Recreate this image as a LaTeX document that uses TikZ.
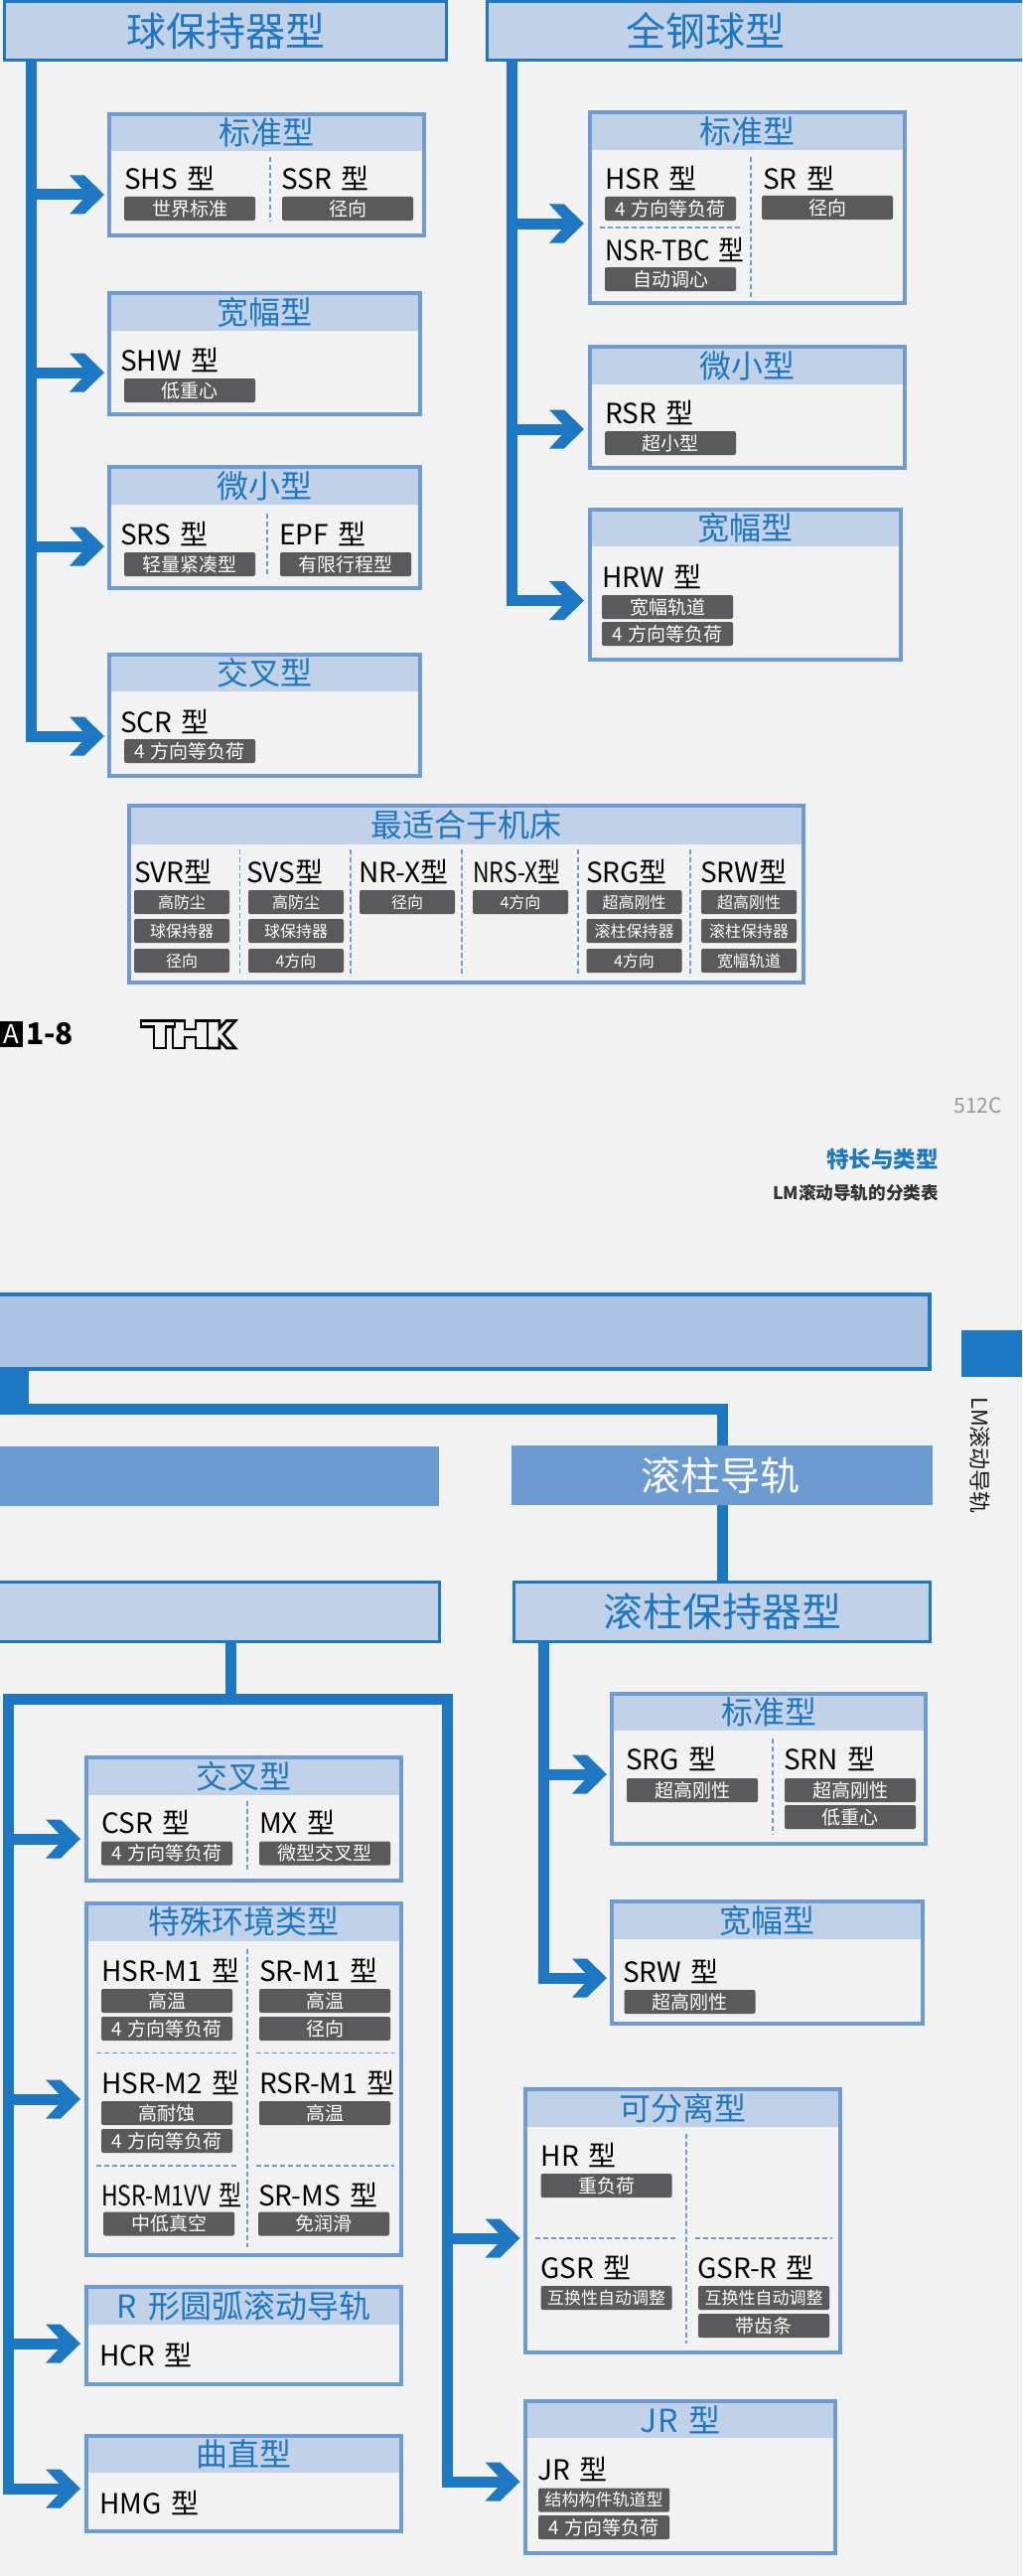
\documentclass[tikz,border=0pt]{standalone}
\usepackage{fontspec}
\setmainfont[WordSpace=1.5]{Noto Sans CJK SC}
\newfontfamily\narrowfont[FakeStretch=0.82,WordSpace=1.5]{Noto Sans CJK SC}
\newfontfamily\semifont[FakeStretch=0.92,WordSpace=1.5]{Noto Sans CJK SC}
\definecolor{pagegray}{HTML}{F2F2F3}
\definecolor{railblue}{HTML}{1E77C2}
\definecolor{cardline}{HTML}{6F9BD4}
\definecolor{headfill}{HTML}{C1D1E8}
\definecolor{barfill}{HTML}{ADC3E1}
\definecolor{bandfill}{HTML}{6C9BD2}
\definecolor{tagfill}{HTML}{5A5A5C}
\pgfdeclarearrow{
  name=Chevron,
  setup code={
    \pgfarrowssettipend{0pt}
    \pgfarrowssetlineend{-12pt}
    \pgfarrowssetvisualbackend{-35pt}
    \pgfarrowssetbackend{-35pt}
  },
  drawing code={
    \pgfsetfillcolor{railblue}
    \pgfpathmoveto{\pgfpoint{0pt}{0pt}}
    \pgfpathlineto{\pgfpoint{-20pt}{19.5pt}}
    \pgfpathlineto{\pgfpoint{-35pt}{19.5pt}}
    \pgfpathlineto{\pgfpoint{-17pt}{0pt}}
    \pgfpathlineto{\pgfpoint{-35pt}{-19.5pt}}
    \pgfpathlineto{\pgfpoint{-20pt}{-19.5pt}}
    \pgfpathclose
    \pgfusepathqfill
  }
}
\tikzset{
  trunk/.style={draw=railblue, line width=11pt},
  branch/.style={trunk, -Chevron},
  topbox/.style={draw=railblue, line width=3pt, outer sep=0pt, fill=headfill, anchor=north west, inner sep=0pt, text=railblue, font=\fontsize{40}{42}\selectfont},
  bandbox/.style={fill=bandfill, anchor=north west, inner sep=0pt, outer sep=0pt, text=white, font=\fontsize{40}{42}\selectfont},
  cardhead/.style={fill=headfill, anchor=north west, inner sep=0pt, outer sep=0pt, text=railblue, font=\fontsize{32}{34}\selectfont},
  cardbox/.style={draw=cardline, line width=4pt, anchor=north west, inner sep=0pt, outer sep=0pt},
  model/.style={anchor=west, inner sep=0pt, text=black, font=\fontsize{28}{30}\selectfont},
  narrowmodel/.style={model, font=\narrowfont\fontsize{28}{30}\selectfont},
  semimodel/.style={model, font=\semifont\fontsize{28}{30}\selectfont},
  tag/.style={fill=tagfill, rounded corners=2pt, anchor=north west, inner sep=0pt, outer sep=0pt, text=white, minimum width=132pt, minimum height=24pt, font=\fontsize{19}{21}\selectfont},
  smalltag/.style={tag, minimum width=96pt, font=\fontsize{16}{18}\selectfont},
  cellsep/.style={draw=cardline, line width=1.5pt, dash pattern=on 5pt off 3pt},
}
\begin{document}
\begin{tikzpicture}[x=1pt, y=-1pt]
	\useasboundingbox (0,0) rectangle (1029,2593);
	\clip (0,0) rectangle (1029,2593);
	\fill[pagegray] (0,0) rectangle (1029,2593);

	% Ball cage column
	\node[topbox, minimum width=445pt, minimum height=59pt] (ballCage) at (4.5,1.5) {球保持器型};
	\coordinate (trunkA) at (31.5,60);
	\coordinate (tipA1) at (105,196);
	\coordinate (tipA2) at (105,375);
	\coordinate (tipA3) at (105,550);
	\coordinate (tipA4) at (105,741);

	\node[cardhead, minimum width=317pt, minimum height=37pt] (stdAhead) at (110,115) {标准型};
	\node[cardbox, minimum width=317pt, minimum height=122pt] (stdA) at (stdAhead.north west) {};
	\node[model] (shs) at (125,179) {SHS 型};
	\node[tag] (shsTag) at (125,198) {世界标准};
	\node[model] (ssr) at (283,179) {SSR 型};
	\node[tag] (ssrTag) at (284,198) {径向};
	\draw[cellsep] (272,158) -- (272,223);

	\node[cardhead, minimum width=313pt, minimum height=38pt] (wideAhead) at (110,295) {宽幅型};
	\node[cardbox, minimum width=313pt, minimum height=122pt] (wideA) at (wideAhead.north west) {};
	\node[model] (shw) at (121,362) {SHW 型};
	\node[tag] (shwTag) at (125,381) {低重心};

	\node[cardhead, minimum width=313pt, minimum height=38pt] (miniAhead) at (110,470) {微小型};
	\node[cardbox, minimum width=313pt, minimum height=122pt] (miniA) at (miniAhead.north west) {};
	\node[model] (srs) at (121,537) {SRS 型};
	\node[tag] (srsTag) at (125,556) {轻量紧凑型};
	\node[model] (epf) at (281,537) {EPF 型};
	\node[tag] (epfTag) at (282,556) {有限行程型};
	\draw[cellsep] (269,517) -- (269,581);

	\node[cardhead, minimum width=313pt, minimum height=37pt] (crossAhead) at (110,659) {交叉型};
	\node[cardbox, minimum width=313pt, minimum height=122pt] (crossA) at (crossAhead.north west) {};
	\node[model] (scr) at (121,726) {SCR 型};
	\node[tag] (scrTag) at (125,744) {4 方向等负荷};

	\draw[branch] (trunkA) |- (tipA1);
	\draw[branch] (trunkA) |- (tipA2);
	\draw[branch] (trunkA) |- (tipA3);
	\draw[branch] (trunkA) |- (tipA4);

	% Full ball column
	\node[topbox, minimum width=800pt, minimum height=59pt] (fullBall) at (490.5,1.5) {};
	\node[text=railblue, inner sep=0pt, font=\fontsize{40}{42}\selectfont] (fullBallText) at (710,31) {全钢球型};
	\coordinate (trunkB) at (515.5,60);
	\coordinate (tipB1) at (588,225);
	\coordinate (tipB2) at (588,432);
	\coordinate (tipB3) at (588,604.5);

	\node[cardhead, minimum width=317pt, minimum height=38pt] (stdBhead) at (594,113) {标准型};
	\node[cardbox, minimum width=317pt, minimum height=192pt] (stdB) at (stdBhead.north west) {};
	\node[model] (hsr) at (609,179) {HSR 型};
	\node[tag] (hsrTag) at (609,198) {4 方向等负荷};
	\node[semimodel] (nsrtbc) at (609,251) {NSR-TBC 型};
	\node[tag] (nsrtbcTag) at (609,269) {自动调心};
	\node[model] (sr) at (768,179) {SR 型};
	\node[tag] (srTag) at (767,197) {径向};
	\draw[cellsep] (756,158) -- (756,300);
	\draw[cellsep] (604,229) -- (748,229);

	\node[cardhead, minimum width=317pt, minimum height=38pt] (miniBhead) at (594,349) {微小型};
	\node[cardbox, minimum width=317pt, minimum height=122pt] (miniB) at (miniBhead.north west) {};
	\node[model] (rsr) at (609,415) {RSR 型};
	\node[tag] (rsrTag) at (609,434) {超小型};

	\node[cardhead, minimum width=313pt, minimum height=37pt] (wideBhead) at (594,513) {宽幅型};
	\node[cardbox, minimum width=313pt, minimum height=151pt] (wideB) at (wideBhead.north west) {};
	\node[model] (hrw) at (606,580) {HRW 型};
	\node[tag] (hrwTagA) at (606,599) {宽幅轨道};
	\node[tag] (hrwTagB) at (606,626) {4 方向等负荷};

	\draw[branch] (trunkB) |- (tipB1);
	\draw[branch] (trunkB) |- (tipB2);
	\draw[branch] (trunkB) |- (tipB3);

	% Machine tool table
	\node[cardhead, minimum width=679pt, minimum height=39pt] (toolhead) at (130,811) {最适合于机床};
	\node[cardbox, minimum width=679pt, minimum height=178pt] (tool) at (toolhead.north west) {};
	\node[model] (svr) at (135,877) {SVR型};
	\node[smalltag] (svrTagA) at (135,896) {高防尘};
	\node[smalltag] (svrTagB) at (135,925) {球保持器};
	\node[smalltag] (svrTagC) at (135,955) {径向};
	\node[model] (svs) at (248,877) {SVS型};
	\node[smalltag] (svsTagA) at (250,896) {高防尘};
	\node[smalltag] (svsTagB) at (250,925) {球保持器};
	\node[smalltag] (svsTagC) at (250,955) {4方向};
	\node[model] (nrx) at (361,877) {NR-X型};
	\node[smalltag] (nrxTag) at (362,896) {径向};
	\node[narrowmodel] (nrsx) at (476,877) {NRS-X型};
	\node[smalltag] (nrsxTag) at (476,896) {4方向};
	\node[model] (srgT) at (590,877) {SRG型};
	\node[smalltag] (srgTagA) at (590.5,896) {超高刚性};
	\node[smalltag] (srgTagB) at (590.5,925) {滚柱保持器};
	\node[smalltag] (srgTagC) at (590.5,955) {4方向};
	\node[model] (srwT) at (705,877) {SRW型};
	\node[smalltag] (srwTagA) at (706,896) {超高刚性};
	\node[smalltag] (srwTagB) at (706,925) {滚柱保持器};
	\node[smalltag] (srwTagC) at (706,955) {宽幅轨道};
	\draw[cellsep] (241.5,855) -- (241.5,983);
	\draw[cellsep] (353,855) -- (353,983);
	\draw[cellsep] (465,855) -- (465,983);
	\draw[cellsep] (582,855) -- (582,983);
	\draw[cellsep] (695,855) -- (695,983);

	% Page marks
	\node[fill=black, text=white, inner sep=0pt, minimum width=23pt, minimum height=26pt, anchor=north west, font=\fontsize{26}{28}\selectfont] (pageA) at (0,1028) {A};
	\node[anchor=west, inner sep=0pt, font=\bfseries\fontsize{30}{32}\selectfont] (pageNo) at (26,1041) {1-8};
	\draw[line width=2.6pt, line join=miter] (142,1027.5) -- (176,1027.5) -- (176,1033.5) -- (167,1033.5) -- (167,1055) -- (155,1055) -- (155,1033.5) -- (142,1033.5) -- cycle;
	\draw[line width=2.6pt, line join=miter] (176,1027.5) -- (186,1027.5) -- (186,1036) -- (197,1036) -- (197,1027.5) -- (209,1027.5) -- (209,1055) -- (197,1055) -- (197,1044) -- (186,1044) -- (186,1055) -- (174,1055) -- (174,1033.5);
	\draw[line width=2.6pt, line join=miter] (209,1027.5) -- (221,1027.5) -- (221,1035) -- (228,1027.5) -- (237,1027.5) -- (225,1041) -- (237,1055) -- (228,1055) -- (221,1047) -- (221,1055) -- (209,1055);
	\node[anchor=east, inner sep=0pt, text=gray!80, font=\fontsize{21}{23}\selectfont] (code) at (1009,1113) {512C};
	\node[anchor=east, inner sep=0pt, text=railblue, font=\bfseries\fontsize{22.5}{25}\selectfont] (section) at (945,1167) {特长与类型};
	\node[anchor=east, inner sep=0pt, text=black!80, font=\bfseries\fontsize{17.6}{20}\selectfont] (subsection) at (945,1201) {LM滚动导轨的分类表};
	\node[fill=railblue, anchor=north west, inner sep=0pt, outer sep=0pt, minimum width=70pt, minimum height=47pt] (sidetab) at (968,1339) {};
	\node[rotate=-90, inner sep=0pt, text=black!90, font=\fontsize{22}{24}\selectfont] (sidetext) at (987,1465) {LM滚动导轨};

	% Main bar and bands
	\node[draw=railblue, line width=4pt, outer sep=0pt, fill=barfill, anchor=north west, inner sep=0pt, minimum width=946pt, minimum height=75pt] (mainBar) at (-10,1303) {};
	\node[bandbox, minimum width=452pt, minimum height=60pt] (ballBand) at (-10,1456) {};
	\node[bandbox, minimum width=424pt, minimum height=60pt] (rollerBand) at (515,1455) {\hspace*{-4pt}滚柱导轨};
	\node[topbox, minimum width=452pt, minimum height=60pt] (leftBox) at (-10,1592) {};
	\node[topbox, minimum width=419pt, minimum height=60pt] (rollerCage) at (517.5,1592) {滚柱保持器型};
	\coordinate (hubTop) at (14.5,1378);
	\coordinate (hubBottom) at (14.5,1424);
	\coordinate (hubRun) at (14.5,1418.5);
	\draw[railblue, line width=29pt] (hubTop) -- (hubBottom);
	\draw[trunk] (hubRun) -| (rollerBand.north);
	\draw[trunk] (rollerBand.south) -- (rollerCage.north);

	% Roller cage column
	\coordinate (trunkD) at (547.5,1652);
	\coordinate (tipD1) at (611,1786);
	\coordinate (tipD2) at (611,1991);

	\node[cardhead, minimum width=316pt, minimum height=37.5pt] (stdDhead) at (616,1704.5) {标准型};
	\node[cardbox, minimum width=316pt, minimum height=151.5pt] (stdD) at (stdDhead.north west) {};
	\node[model] (srg) at (630,1770) {SRG 型};
	\node[tag] (srgTag) at (631,1790) {超高刚性};
	\node[model] (srn) at (789,1770) {SRN 型};
	\node[tag] (srnTagA) at (790,1790) {超高刚性};
	\node[tag] (srnTagB) at (790,1817) {低重心};
	\draw[cellsep] (778,1750) -- (778,1847);

	\node[cardhead, minimum width=313pt, minimum height=38pt] (wideDhead) at (616,1914) {宽幅型};
	\node[cardbox, minimum width=313pt, minimum height=123pt] (wideD) at (wideDhead.north west) {};
	\node[model] (srw) at (627,1984) {SRW 型};
	\node[tag] (srwTag) at (628.5,2003) {超高刚性};

	\draw[branch] (trunkD) |- (tipD1);
	\draw[branch] (trunkD) |- (tipD2);

	% Frame under the left box
	\coordinate (leftDrop) at (232,1652);
	\coordinate (frameDrop) at (232,1710);
	\coordinate (frameLeft) at (8.5,1800);
	\coordinate (frameRight) at (450.5,1800);
	\coordinate (frameTop) at (8.5,1710);
	\coordinate (tipE1) at (81,1851);
	\coordinate (tipE2) at (81,2113);
	\coordinate (tipE3) at (81,2359);
	\coordinate (tipE4) at (81,2505);
	\coordinate (tipF1) at (523.5,2253);
	\coordinate (tipF2) at (523.5,2498);
	\draw[trunk] (leftDrop) -- (frameDrop);
	\draw[trunk] (frameLeft) -- (frameTop) -| (frameRight);

	\node[cardhead, minimum width=317pt, minimum height=38pt] (crossEhead) at (87,1769) {交叉型};
	\node[cardbox, minimum width=317pt, minimum height=123.5pt] (crossE) at (crossEhead.north west) {};
	\node[model] (csr) at (102,1834) {CSR 型};
	\node[tag] (csrTag) at (102,1853.5) {4 方向等负荷};
	\node[model] (mx) at (261,1834) {MX 型};
	\node[tag] (mxTag) at (261,1853.5) {微型交叉型};
	\draw[cellsep] (249,1813) -- (249,1883);

	\node[cardhead, minimum width=317pt, minimum height=37.5pt] (specialhead) at (87,1916) {特殊环境类型};
	\node[cardbox, minimum width=317pt, minimum height=354pt] (special) at (specialhead.north west) {};
	\node[model] (hsrma) at (102,1983) {HSR-M1 型};
	\node[tag] (hsrmaTagA) at (102,2002) {高温};
	\node[tag] (hsrmaTagB) at (102,2030) {4 方向等负荷};
	\node[model] (srma) at (261,1983) {SR-M1 型};
	\node[tag] (srmaTagA) at (261,2002) {高温};
	\node[tag] (srmaTagB) at (261,2030) {径向};
	\node[model] (hsrmb) at (102,2096) {HSR-M2 型};
	\node[tag] (hsrmbTagA) at (102,2115) {高耐蚀};
	\node[tag] (hsrmbTagB) at (102,2143) {4 方向等负荷};
	\node[model] (rsrma) at (261,2096) {RSR-M1 型};
	\node[tag] (rsrmaTag) at (261,2115) {高温};
	\node[narrowmodel] (hsrmv) at (102,2209) {HSR-M1VV 型};
	\node[tag] (hsrmvTag) at (104,2226.5) {中低真空};
	\node[model] (srms) at (260,2209) {SR-MS 型};
	\node[tag] (srmsTag) at (260,2226.5) {免润滑};
	\draw[cellsep] (249,1961.5) -- (249,2262);
	\draw[cellsep] (97,2066.5) -- (239.5,2066.5);
	\draw[cellsep] (258,2066.5) -- (397,2066.5);
	\draw[cellsep] (97,2180) -- (239.5,2180);
	\draw[cellsep] (258,2180) -- (397,2180);

	\node[cardhead, minimum width=317pt, minimum height=38pt] (archhead) at (87,2302) {R 形圆弧滚动导轨};
	\node[cardbox, minimum width=317pt, minimum height=97.5pt] (arch) at (archhead.north west) {};
	\node[model] (hcr) at (100,2370) {HCR 型};

	\node[cardhead, minimum width=317pt, minimum height=37.5pt] (curvehead) at (87,2451.5) {曲直型};
	\node[cardbox, minimum width=317pt, minimum height=96.5pt] (curve) at (curvehead.north west) {};
	\node[model] (hmg) at (100,2519) {HMG 型};

	\node[cardhead, minimum width=317pt, minimum height=37.5pt] (sepahead) at (529,2103) {可分离型};
	\node[cardbox, minimum width=317pt, minimum height=265pt] (sepa) at (sepahead.north west) {};
	\node[model] (hr) at (544.5,2169) {HR 型};
	\node[tag] (hrTag) at (544.5,2188) {重负荷};
	\node[model] (gsr) at (544.5,2282) {GSR 型};
	\node[tag, font=\fontsize{17}{19}\selectfont] (gsrTag) at (544.5,2301) {互换性自动调整};
	\node[model] (gsrr) at (702,2282) {GSR-R 型};
	\node[tag, font=\fontsize{17}{19}\selectfont] (gsrrTagA) at (703,2301) {互换性自动调整};
	\node[tag] (gsrrTagB) at (703,2329) {带齿条};
	\draw[cellsep] (691,2147.5) -- (691,2359);
	\draw[cellsep] (539,2253) -- (682,2253);
	\draw[cellsep] (700,2253) -- (838,2253);

	\node[cardhead, minimum width=312pt, minimum height=37pt] (jrhead) at (529,2417) {JR 型};
	\node[cardbox, minimum width=312pt, minimum height=152.5pt] (jrcard) at (jrhead.north west) {};
	\node[model] (jr) at (541,2485) {JR 型};
	\node[tag, font=\fontsize{17}{19}\selectfont] (jrTagA) at (542,2504.5) {结构构件轨道型};
	\node[tag] (jrTagB) at (542,2532) {4 方向等负荷};

	\draw[branch] (frameLeft) |- (tipE1);
	\draw[branch] (frameLeft) |- (tipE2);
	\draw[branch] (frameLeft) |- (tipE3);
	\draw[branch] (frameLeft) |- (tipE4);
	\draw[branch] (frameRight) |- (tipF1);
	\draw[branch] (frameRight) |- (tipF2);
\end{tikzpicture}
\end{document}
